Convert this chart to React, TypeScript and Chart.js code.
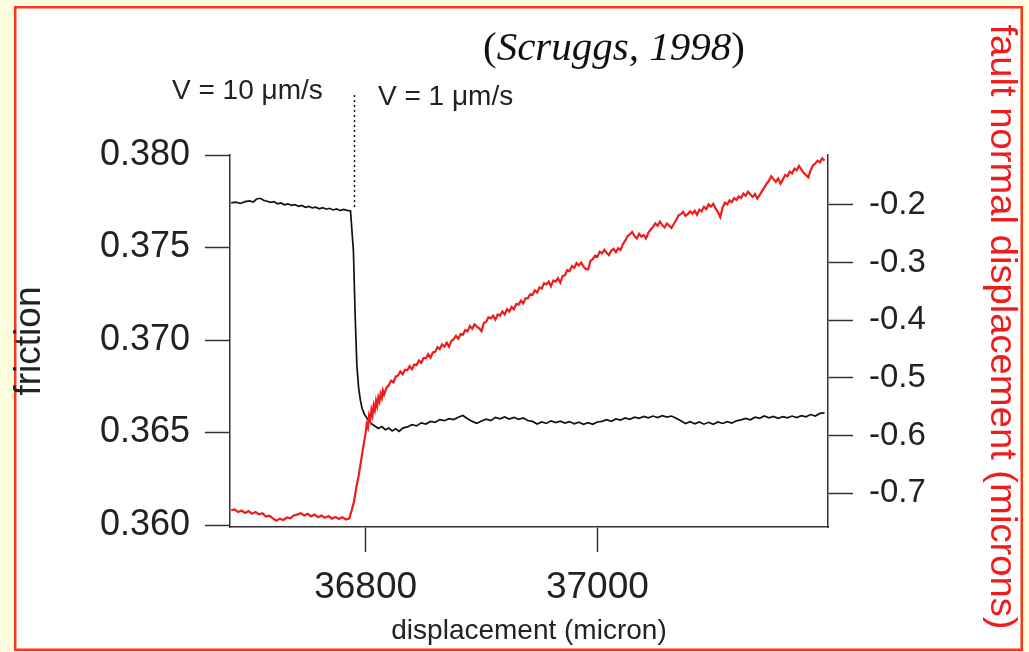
import React, { useEffect, useRef } from "react";
import { Chart, registerables } from "chart.js";

Chart.register(...registerables);

// ---- data ----
const xTicks = [36800, 37000];
const frictionTicks = [0.36, 0.365, 0.37, 0.375, 0.38];
const normalTicks = [-0.7, -0.6, -0.5, -0.4, -0.3, -0.2];

const X_MIN = 36683;
const X_MAX = 37199;
const FRICTION_MIN = 0.359892;
const FRICTION_MAX = 0.38;
const NORMAL_MIN = -0.759;
const NORMAL_MAX = -0.1132;

const STEP_DISPLACEMENT = 36790; // velocity step location
const FRICTION_AT_STEP = 0.377;

const friction: [number, number][] = [
  [36684, 0.37741], [36688, 0.37745], [36692, 0.37738], [36696, 0.37748], [36700, 0.37752], [36703, 0.37746],
  [36706, 0.37762], [36709, 0.37766], [36712, 0.37755], [36715, 0.3775], [36718, 0.37744], [36721, 0.37748],
  [36724, 0.37736], [36727, 0.37741], [36730, 0.37731], [36733, 0.37736], [36736, 0.37728], [36739, 0.37732],
  [36742, 0.37723], [36745, 0.37727], [36748, 0.37717], [36751, 0.37722], [36754, 0.37714], [36757, 0.37718],
  [36760, 0.37709], [36763, 0.37715], [36766, 0.37707], [36769, 0.37712], [36772, 0.37703], [36775, 0.37709],
  [36778, 0.377], [36781, 0.37706], [36784, 0.37701], [36787, 0.37698],
  [36789.5, 0.3748], [36791, 0.3713], [36792.5, 0.3686], [36794, 0.3674], [36795.5, 0.36675], [36797, 0.3663],
  [36799, 0.36598], [36802, 0.3657], [36805, 0.36548], [36808, 0.36535], [36811, 0.36522], [36814, 0.36532],
  [36817, 0.36515], [36820, 0.36524], [36823, 0.36508], [36826, 0.3652], [36829, 0.36506], [36832, 0.36524],
  [36836, 0.3653], [36840, 0.36542], [36844, 0.36536], [36848, 0.36552], [36852, 0.36546], [36856, 0.3656],
  [36860, 0.36555], [36864, 0.3657], [36868, 0.36564], [36872, 0.36575], [36876, 0.3657], [36880, 0.36582],
  [36884, 0.36592], [36888, 0.36574], [36892, 0.3656], [36896, 0.3655], [36900, 0.36562], [36904, 0.36572],
  [36908, 0.36564], [36912, 0.36582], [36916, 0.36574], [36920, 0.36584], [36924, 0.36573], [36928, 0.36582],
  [36932, 0.36571], [36936, 0.36579], [36940, 0.36565], [36944, 0.3656], [36948, 0.36546], [36952, 0.36557],
  [36956, 0.36549], [36960, 0.36563], [36964, 0.36554], [36968, 0.36561], [36972, 0.36551], [36976, 0.36559],
  [36980, 0.36547], [36984, 0.36556], [36988, 0.36544], [36992, 0.36553], [36996, 0.36544], [37000, 0.36557],
  [37004, 0.3656], [37008, 0.36569], [37012, 0.36561], [37016, 0.36573], [37020, 0.36567], [37024, 0.36579],
  [37028, 0.36571], [37032, 0.36583], [37036, 0.36577], [37040, 0.36587], [37044, 0.36579], [37048, 0.36589],
  [37052, 0.36581], [37056, 0.36591], [37060, 0.36583], [37064, 0.36589], [37068, 0.36577], [37072, 0.36564],
  [37076, 0.36549], [37080, 0.36559], [37084, 0.36547], [37088, 0.36557], [37092, 0.36545], [37096, 0.36555],
  [37100, 0.36544], [37104, 0.36557], [37108, 0.36549], [37112, 0.36559], [37116, 0.36551], [37120, 0.36563],
  [37124, 0.36568], [37128, 0.36576], [37132, 0.36569], [37136, 0.36583], [37140, 0.36577], [37144, 0.36589],
  [37148, 0.36579], [37152, 0.36587], [37156, 0.36577], [37160, 0.36586], [37164, 0.36579], [37168, 0.36589],
  [37172, 0.36581], [37176, 0.36591], [37180, 0.36585], [37184, 0.36597], [37188, 0.36589], [37192, 0.36603],
  [37196, 0.36606],
];

const normalDisp: [number, number][] = [
  [36684, -0.73], [36687, -0.7285], [36690, -0.733], [36693, -0.7305], [36696, -0.7345], [36699, -0.7315],
  [36702, -0.736], [36705, -0.733], [36708, -0.737], [36711, -0.735], [36714, -0.741], [36717, -0.7395],
  [36720, -0.744], [36723, -0.748], [36726, -0.7445], [36729, -0.747], [36732, -0.7425], [36735, -0.744],
  [36738, -0.739], [36741, -0.7375], [36744, -0.735], [36747, -0.739], [36750, -0.736], [36753, -0.7405],
  [36756, -0.7375], [36759, -0.742], [36762, -0.739], [36765, -0.743], [36768, -0.74], [36771, -0.7445],
  [36774, -0.7415], [36777, -0.745], [36780, -0.742], [36783, -0.746], [36786, -0.744], [36788, -0.73],
  [36790, -0.715], [36792, -0.69], [36794, -0.67], [36796, -0.645], [36798, -0.62], [36800, -0.596],
  [36801, -0.58], [36802, -0.586], [36803, -0.566], [36804, -0.574], [36805, -0.556], [36806, -0.565],
  [36807, -0.548], [36808, -0.556], [36809, -0.54], [36810, -0.549], [36811, -0.534], [36812, -0.541],
  [36813, -0.528], [36814, -0.535], [36815, -0.522], [36816, -0.529], [36818, -0.517], [36820, -0.513],
  [36822, -0.505], [36824, -0.508], [36826, -0.498], [36828, -0.496], [36830, -0.489], [36832, -0.494],
  [36834, -0.486], [36836, -0.487], [36838, -0.48], [36840, -0.485], [36842, -0.477], [36844, -0.478],
  [36846, -0.47], [36848, -0.474], [36850, -0.466], [36852, -0.466], [36854, -0.459], [36856, -0.465],
  [36858, -0.456], [36860, -0.455], [36862, -0.447], [36864, -0.45], [36866, -0.442], [36868, -0.446],
  [36870, -0.439], [36872, -0.446], [36874, -0.436], [36876, -0.433], [36878, -0.427], [36880, -0.432],
  [36882, -0.424], [36884, -0.425], [36886, -0.417], [36888, -0.419], [36890, -0.41], [36892, -0.415],
  [36894, -0.407], [36896, -0.411], [36898, -0.414], [36900, -0.419], [36902, -0.405], [36904, -0.403],
  [36906, -0.395], [36908, -0.397], [36910, -0.392], [36912, -0.399], [36914, -0.39], [36916, -0.392],
  [36918, -0.385], [36920, -0.39], [36922, -0.381], [36924, -0.385], [36926, -0.377], [36928, -0.381],
  [36930, -0.372], [36932, -0.373], [36934, -0.366], [36936, -0.371], [36938, -0.362], [36940, -0.362],
  [36942, -0.355], [36944, -0.356], [36946, -0.348], [36948, -0.352], [36950, -0.343], [36952, -0.345],
  [36954, -0.336], [36956, -0.338], [36958, -0.333], [36960, -0.341], [36962, -0.331], [36964, -0.333],
  [36966, -0.327], [36968, -0.335], [36970, -0.323], [36972, -0.322], [36974, -0.313], [36976, -0.315],
  [36978, -0.306], [36980, -0.309], [36982, -0.301], [36984, -0.305], [36986, -0.3], [36988, -0.307],
  [36990, -0.311], [36992, -0.312], [36994, -0.297], [36996, -0.294], [36998, -0.288], [37000, -0.29],
  [37002, -0.281], [37004, -0.284], [37006, -0.278], [37008, -0.283], [37010, -0.287], [37012, -0.279],
  [37014, -0.276], [37016, -0.282], [37018, -0.275], [37020, -0.278], [37022, -0.268], [37024, -0.262],
  [37026, -0.254], [37028, -0.251], [37030, -0.247], [37032, -0.254], [37034, -0.258], [37036, -0.25],
  [37038, -0.255], [37040, -0.252], [37042, -0.258], [37044, -0.248], [37046, -0.243], [37048, -0.238],
  [37050, -0.232], [37052, -0.236], [37054, -0.229], [37056, -0.235], [37058, -0.239], [37060, -0.232],
  [37062, -0.236], [37064, -0.24], [37066, -0.233], [37068, -0.226], [37070, -0.218], [37072, -0.216],
  [37074, -0.212], [37076, -0.219], [37078, -0.216], [37080, -0.211], [37082, -0.215], [37084, -0.21],
  [37086, -0.217], [37088, -0.208], [37090, -0.211], [37092, -0.203], [37094, -0.207], [37096, -0.199],
  [37098, -0.203], [37100, -0.198], [37102, -0.206], [37104, -0.212], [37106, -0.221], [37108, -0.205],
  [37110, -0.196], [37112, -0.199], [37114, -0.192], [37116, -0.195], [37118, -0.188], [37120, -0.191],
  [37122, -0.185], [37124, -0.188], [37126, -0.18], [37128, -0.184], [37130, -0.177], [37132, -0.182],
  [37134, -0.186], [37136, -0.181], [37138, -0.189], [37140, -0.183], [37142, -0.176], [37144, -0.17],
  [37146, -0.163], [37148, -0.158], [37150, -0.15], [37152, -0.155], [37154, -0.16], [37156, -0.154],
  [37158, -0.163], [37160, -0.156], [37162, -0.148], [37164, -0.15], [37166, -0.142], [37168, -0.145],
  [37170, -0.137], [37172, -0.14], [37174, -0.132], [37176, -0.138], [37178, -0.144], [37180, -0.148],
  [37182, -0.152], [37184, -0.14], [37186, -0.131], [37188, -0.128], [37190, -0.123], [37192, -0.126],
  [37194, -0.119], [37196, -0.123],
];

// ---- styles ----
const W = 1029;
const H = 652;
const SANS = '"Liberation Sans", Arial, Helvetica, sans-serif';
const SERIF = '"Liberation Serif", "Times New Roman", serif';
const AXIS = "#333333";
const TEXT = "#222222";
const RED = "#ee1c1c";

const framePlugin = {
  id: "frame",
  beforeDraw(chart: any) {
    const ctx = chart.ctx;
    ctx.save();
    ctx.fillStyle = "rgb(255,253,222)";
    ctx.fillRect(0, 0, W, H);
    ctx.fillStyle = "#ffffff";
    ctx.fillRect(15, 7, 1007, 643);
    ctx.strokeStyle = "#ff3518";
    ctx.lineWidth = 2.5;
    ctx.strokeRect(15.25, 7.25, 1006.5, 642.5);
    ctx.restore();
  },
};

const annotPlugin = {
  id: "annot",
  afterDraw(chart: any) {
    const ctx = chart.ctx;
    const xs = chart.scales.x;
    const ys = chart.scales.y;
    ctx.save();
    // citation
    ctx.fillStyle = "#111";
    ctx.textBaseline = "alphabetic";
    ctx.textAlign = "left";
    let cx = 483;
    ctx.font = `41px ${SERIF}`;
    ctx.fillText("(", cx, 60);
    cx += ctx.measureText("(").width;
    ctx.font = `italic 41px ${SERIF}`;
    ctx.fillText("Scruggs, 1998", cx, 60);
    cx += ctx.measureText("Scruggs, 1998").width;
    ctx.font = `41px ${SERIF}`;
    ctx.fillText(")", cx, 60);

    // velocity labels
    ctx.fillStyle = TEXT;
    ctx.font = `28px ${SANS}`;
    ctx.fillText("V = 10 \u03bcm/s", 172, 99);
    ctx.fillText("V = 1 \u03bcm/s", 378, 105);

    // dotted step line
    const px = Math.round(xs.getPixelForValue(STEP_DISPLACEMENT)) + 0.5;
    const py = ys.getPixelForValue(FRICTION_AT_STEP);
    ctx.strokeStyle = "#111";
    ctx.lineWidth = 1.5;
    ctx.setLineDash([2, 3]);
    ctx.beginPath();
    ctx.moveTo(px, 95);
    ctx.lineTo(px, py - 2);
    ctx.stroke();
    ctx.setLineDash([]);

    // right axis title
    const title = "fault normal displacement (microns)";
    ctx.font = `36px ${SANS}`;
    const tw = ctx.measureText(title).width;
    const sx = 605 / tw;
    ctx.translate(991, 327);
    ctx.rotate(Math.PI / 2);
    ctx.scale(sx, 1);
    ctx.fillStyle = RED;
    ctx.textAlign = "center";
    ctx.textBaseline = "alphabetic";
    ctx.fillText(title, 0, 0);
    ctx.restore();
  },
};

export default function App() {
  const ref = useRef<HTMLCanvasElement | null>(null);
  useEffect(() => {
    if (!ref.current) return;
    const chart = new Chart(ref.current, {
      type: "line",
      data: {
        datasets: [
          {
            label: "fault normal displacement",
            data: normalDisp.map(([x, y]) => ({ x, y })),
            yAxisID: "y2",
            borderColor: RED,
            borderWidth: 2.2,
            pointRadius: 0,
            tension: 0,
            order: 0,
          },
          {
            label: "friction",
            data: friction.map(([x, y]) => ({ x, y })),
            yAxisID: "y",
            borderColor: "#111111",
            borderWidth: 1.7,
            pointRadius: 0,
            tension: 0,
            order: 1,
          },
        ],
      },
      options: {
        animation: false,
        responsive: false,
        layout: { padding: { top: 155, left: 0, right: 0, bottom: 0 } },
        plugins: { legend: { display: false }, tooltip: { enabled: false } },
        scales: {
          x: {
            type: "linear",
            position: "bottom",
            min: X_MIN,
            max: X_MAX,
            afterBuildTicks: (s: any) => {
              s.ticks = xTicks.map((v) => ({ value: v }));
            },
            afterFit: (s: any) => {
              s.height = 125;
            },
            grid: { drawOnChartArea: false, drawTicks: true, tickLength: 25, tickColor: AXIS, tickWidth: 1.5 },
            border: { display: true, color: AXIS, width: 1.5 },
            ticks: {
              autoSkip: false,
              maxRotation: 0,
              padding: 14,
              color: TEXT,
              font: { family: SANS, size: 37 },
              callback: (v: any) => String(v),
            },
            title: {
              display: true,
              text: "displacement (micron)",
              color: TEXT,
              font: { family: SANS, size: 28 },
              padding: { top: 0, bottom: 4 },
            },
          },
          y: {
            type: "linear",
            position: "left",
            min: FRICTION_MIN,
            max: FRICTION_MAX,
            afterBuildTicks: (s: any) => {
              s.ticks = frictionTicks.map((v) => ({ value: v }));
            },
            afterFit: (s: any) => {
              s.width = 230;
            },
            grid: { drawOnChartArea: false, drawTicks: true, tickLength: 25, tickColor: AXIS, tickWidth: 1.5 },
            border: { display: true, color: AXIS, width: 1.5 },
            ticks: {
              padding: 15,
              color: TEXT,
              font: { family: SANS, size: 36 },
              callback: (v: any) => Number(v).toFixed(3),
            },
            title: {
              display: true,
              text: "friction",
              color: TEXT,
              font: { family: SANS, size: 37 },
              padding: { top: 8, bottom: 0 },
            },
          },
          y2: {
            type: "linear",
            position: "right",
            min: NORMAL_MIN,
            max: NORMAL_MAX,
            afterBuildTicks: (s: any) => {
              s.ticks = normalTicks.map((v) => ({ value: v }));
            },
            afterFit: (s: any) => {
              s.width = W - 828;
            },
            grid: { drawOnChartArea: false, drawTicks: true, tickLength: 25, tickColor: AXIS, tickWidth: 1.5 },
            border: { display: true, color: AXIS, width: 1.5 },
            ticks: {
              padding: 16,
              color: TEXT,
              font: { family: SANS, size: 33 },
              callback: (v: any) => Number(v).toFixed(1),
            },
          },
        },
      },
      plugins: [framePlugin, annotPlugin],
    } as any);
    return () => chart.destroy();
  }, []);

  return (
    <div style={{ position: "fixed", left: 0, top: 0, width: W, height: H }}>
      <canvas ref={ref} width={W} height={H} style={{ width: W, height: H, display: "block" }} />
    </div>
  );
}
